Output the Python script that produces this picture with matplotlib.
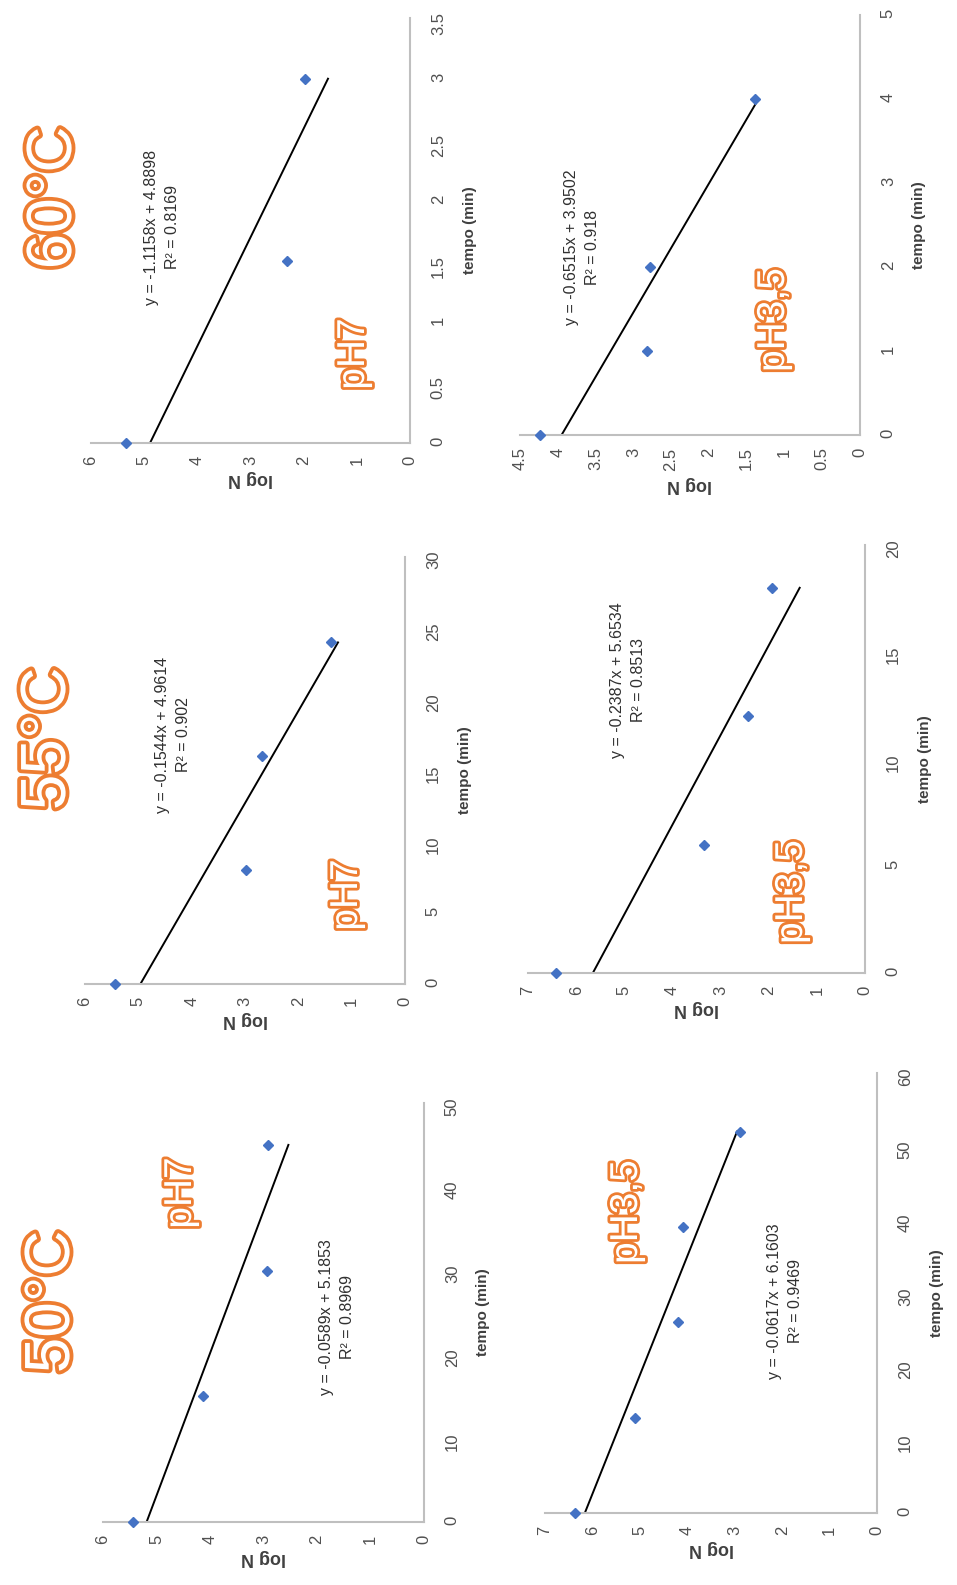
import matplotlib
matplotlib.use("Agg")
import matplotlib.pyplot as plt
import matplotlib.patheffects as pe
from matplotlib.ticker import MultipleLocator, FormatStrFormatter
import numpy as np

W, H = 957, 1585
plt.rcParams["font.family"] = ["Liberation Sans", "DejaVu Sans"]

BLUE = "#4472C4"
ORANGE = "#ED7D31"
GRAY = "#505050"

# 50 C, pH7
t_50_ph7 = [0, 15, 30, 45]
n_50_ph7 = [5.44, 4.14, 2.94, 2.91]
# 55 C, pH7
t_55_ph7 = [0, 8, 16, 24]
n_55_ph7 = [5.44, 2.98, 2.68, 1.39]
# 60 C, pH7
t_60_ph7 = [0, 1.5, 3]
n_60_ph7 = [5.35, 2.32, 1.98]
# 50 C, pH3,5
t_50_ph35 = [0, 13, 26, 39, 52]
n_50_ph35 = [6.37, 5.10, 4.20, 4.08, 2.88]
# 55 C, pH3,5
t_55_ph35 = [0, 6, 12, 18]
n_55_ph35 = [6.41, 3.34, 2.43, 1.94]
# 60 C, pH3,5
t_60_ph35 = [0, 1, 2, 4]
n_60_ph35 = [4.24, 2.82, 2.78, 1.39]

slopes = [-0.0589, -0.1544, -1.1158, -0.0617, -0.2387, -0.6515]
intercepts = [5.1853, 4.9614, 4.8898, 6.1603, 5.6534, 3.9502]
r2 = ["0.8969", "0.902", "0.8169", "0.9469", "0.8513", "0.918"]

fig = plt.figure(figsize=(9.57, 15.85), dpi=100)


def panel(box, t, n, i, nmax, nstep, tmax, tstep):
    x0, x1, y0, y1 = box
    ax = fig.add_axes([x0 / W, 1 - y1 / H, (x1 - x0) / W, (y1 - y0) / H])
    ax.plot(n, t, "D", color=BLUE, ms=5, zorder=3, clip_on=False)
    tt = np.array([0, max(t)])
    ax.plot(intercepts[i] + slopes[i] * tt, tt, color="black", lw=1.4)
    ax.set_xlim(nmax, 0)
    ax.set_ylim(0, tmax)
    ax.xaxis.set_major_locator(MultipleLocator(nstep))
    ax.yaxis.set_major_locator(MultipleLocator(tstep))
    ax.xaxis.set_major_formatter(FormatStrFormatter("%g"))
    ax.yaxis.set_major_formatter(FormatStrFormatter("%g"))
    for s in ["top", "left"]:
        ax.spines[s].set_visible(False)
    for s in ["right", "bottom"]:
        ax.spines[s].set_color("#BFBFBF")
        ax.spines[s].set_linewidth(1.5)
    ax.yaxis.tick_right()
    ax.yaxis.set_label_position("right")
    ax.tick_params(axis="x", length=0, labelsize=12, labelcolor=GRAY,
                   labelrotation=90, pad=9)
    ax.tick_params(axis="y", length=0, labelsize=12, labelcolor=GRAY,
                   labelrotation=90, pad=15)
    ax.set_xlabel("log N", rotation=180, fontweight="bold", fontsize=13,
                  color="#404040", labelpad=4)
    ax.set_ylabel("tempo (min)", fontweight="bold", fontsize=11,
                  color="#404040", labelpad=12)
    ax.patch.set_alpha(0)
    return ax


panel((103, 424, 1103, 1522), t_50_ph7, n_50_ph7, 0, 6, 1, 50, 10)
panel((85, 405, 557, 984), t_55_ph7, n_55_ph7, 1, 6, 1, 30, 5)
panel((91, 410, 18, 443), t_60_ph7, n_60_ph7, 2, 6, 1, 3.5, 0.5)
panel((545, 877, 1073, 1513), t_50_ph35, n_50_ph35, 3, 7, 1, 60, 10)
panel((528, 865, 545, 973), t_55_ph35, n_55_ph35, 4, 7, 1, 20, 5)
panel((520, 860, 15, 435), t_60_ph35, n_60_ph35, 5, 4.5, 0.5, 5, 1)


def ftext(x, y, s, **kw):
    fig.text(x / W, 1 - y / H, s, rotation=90, ha="center", va="center",
             rotation_mode="anchor", **kw)


def outline(x, y, s, size, lw):
    ftext(x, y, s, fontsize=size, color="white",
          path_effects=[pe.withStroke(linewidth=lw, foreground=ORANGE)])


outline(52, 1302, "50°C", 46, 5.5)
outline(48, 739, "55°C", 46, 5.5)
outline(54, 198, "60°C", 46, 5.5)
outline(181, 1193, "pH7", 28, 4)
outline(347, 895, "pH7", 28, 4)
outline(354, 354, "pH7", 28, 4)
outline(627, 1212, "pH3,5", 28, 4)
outline(792, 892, "pH3,5", 28, 4)
outline(774, 320, "pH3,5", 28, 4)

eq_pos = [(337, 1317), (173, 735), (162, 227), (785, 1301), (628, 680), (582, 247)]
for i, (x, y) in enumerate(eq_pos):
    s = "y = %.4fx + %.4f\nR² = %s" % (slopes[i], intercepts[i], r2[i])
    ftext(x, y, s, fontsize=11.5, color="#303030", multialignment="center",
          linespacing=1.5)

fig.savefig("out.png", dpi=100)
